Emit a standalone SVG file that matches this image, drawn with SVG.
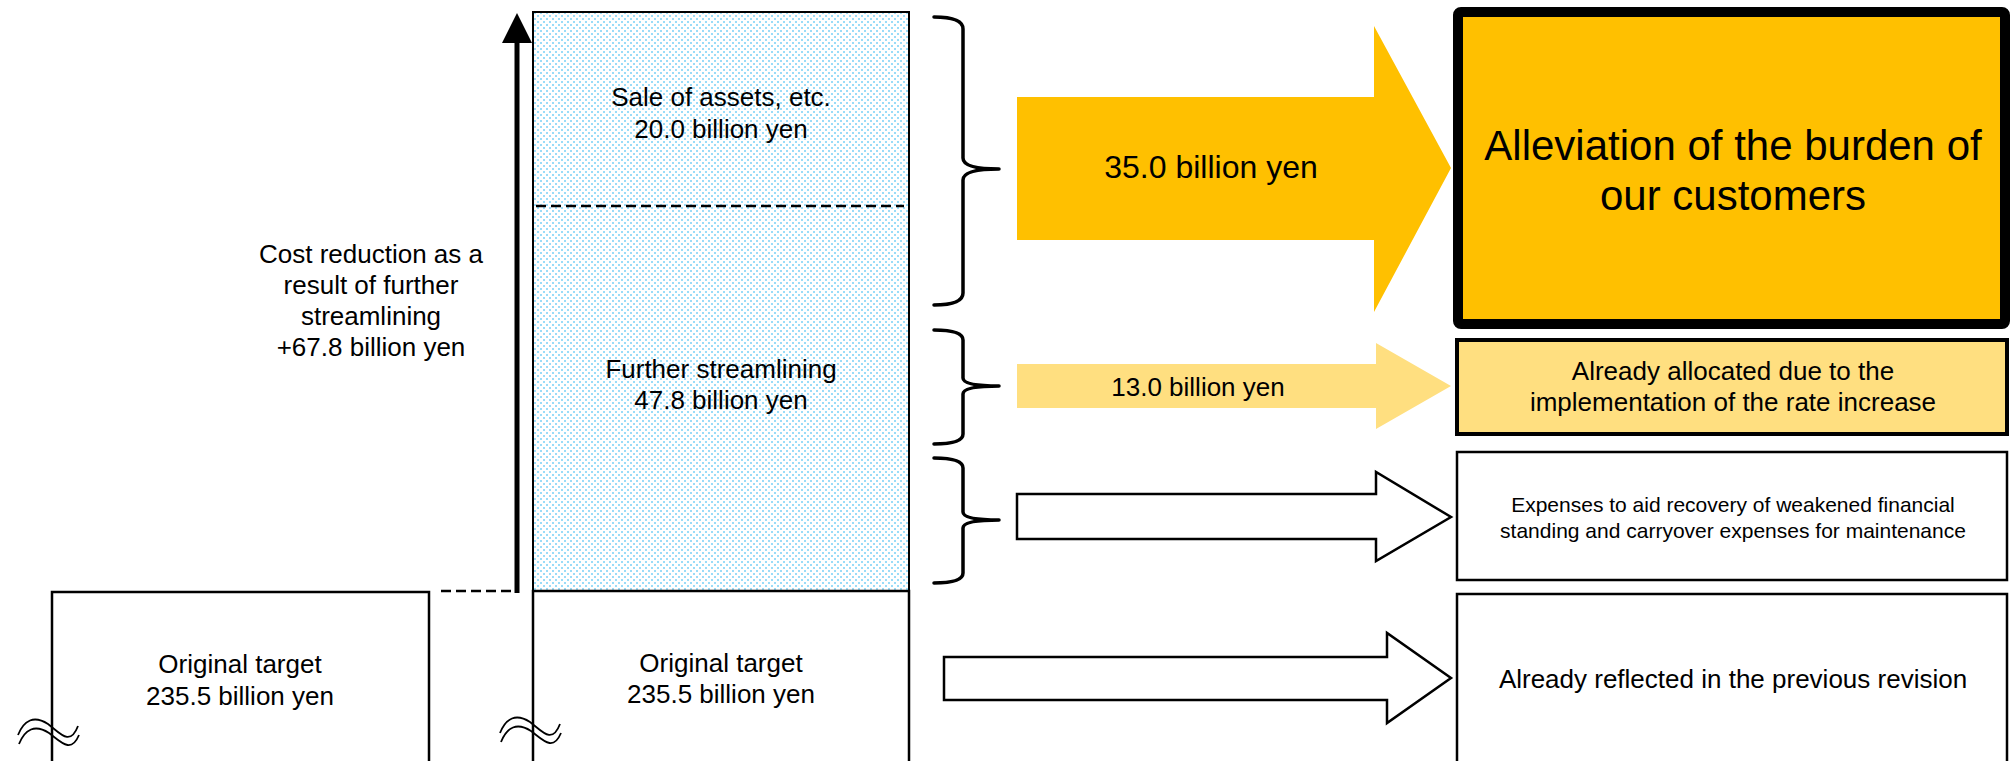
<svg xmlns="http://www.w3.org/2000/svg" width="2010" height="761" viewBox="0 0 2010 761">
<defs>
<style>
text{font-family:"Liberation Sans",Arial,Helvetica,sans-serif;fill:#000;text-anchor:middle}
.t26{font-size:26px}
.t21{font-size:21px}
.t32{font-size:32px}
.t42{font-size:42px}
.box{fill:#fff;stroke:#000;stroke-width:2.5}
.brace{fill:none;stroke:#000;stroke-width:3.5;stroke-linejoin:round;stroke-linecap:round}
.dash{stroke:#000;stroke-width:2.5;stroke-dasharray:10,5;fill:none}
.wave{fill:none;stroke:#000;stroke-width:1.8}
.warrow{fill:#fff;stroke:#000;stroke-width:2.5}
</style>
<pattern id="dots" width="6" height="6" patternUnits="userSpaceOnUse">
<rect width="6" height="6" fill="#ffffff"/>
<rect x="0" y="0" width="2" height="2" fill="#9adcf8"/>
<rect x="3" y="3" width="2" height="2" fill="#9adcf8"/>
</pattern>
<g id="wv">
<path class="wave" d="M500,733 C506,718 516,713 530,722 C542,731 552,745 560,724"/>
<path class="wave" d="M501,742 C507,727 517,722 531,731 C543,740 553,752 561,733"/>
</g>
</defs>
<rect width="2010" height="761" fill="#fff"/>

<g id="left-original">
<rect class="box" x="52" y="592" width="377" height="200"/>
<text class="t26" x="240" y="673">Original target</text>
<text class="t26" x="240" y="705">235.5 billion yen</text>
<use href="#wv" transform="translate(-482,2)"/>
</g>

<g id="cost-label">
<text class="t26" x="371" y="263">Cost reduction as a</text>
<text class="t26" x="371" y="294">result of further</text>
<text class="t26" x="371" y="325">streamlining</text>
<text class="t26" x="371" y="356">+67.8 billion yen</text>
</g>

<g id="column-blue">
<rect x="533" y="12" width="376" height="579" fill="url(#dots)" stroke="#000" stroke-width="2"/>
<line class="dash" x1="536" y1="206" x2="904" y2="206"/>
<text class="t26" x="721" y="106">Sale of assets, etc.</text>
<text class="t26" x="721" y="138">20.0 billion yen</text>
<text class="t26" x="721" y="378">Further streamlining</text>
<text class="t26" x="721" y="409">47.8 billion yen</text>
</g>

<g id="column-original">
<rect class="box" x="533" y="591" width="376" height="200"/>
<text class="t26" x="721" y="672">Original target</text>
<text class="t26" x="721" y="703">235.5 billion yen</text>
<use href="#wv"/>
</g>

<g id="box-alleviation">
<rect x="1458" y="12" width="547" height="312" rx="3" fill="#FFC000" stroke="#000" stroke-width="10"/>
<text class="t42" x="1733" y="160">Alleviation of the burden of</text>
<text class="t42" x="1733" y="210">our customers</text>
</g>

<g id="box-allocated">
<rect x="1457" y="340" width="550" height="94" fill="#FFDF80" stroke="#000" stroke-width="4"/>
<text class="t26" x="1733" y="380">Already allocated due to the</text>
<text class="t26" x="1733" y="411">implementation of the rate increase</text>
</g>

<g id="box-expenses">
<rect class="box" x="1457" y="452" width="550" height="128" stroke-width="3"/>
<text class="t21" x="1733" y="512">Expenses to aid recovery of weakened financial</text>
<text class="t21" x="1733" y="538">standing and carryover expenses for maintenance</text>
</g>

<g id="box-reflected">
<rect class="box" x="1457" y="594" width="550" height="190" stroke-width="3"/>
<text class="t26" x="1733" y="688">Already reflected in the previous revision</text>
</g>

<g id="connectors">
<line class="dash" x1="441" y1="591" x2="514" y2="591"/>
<line x1="517" y1="593" x2="517" y2="40" stroke="#000" stroke-width="5"/>
<polygon points="502,43 532,43 517,13" fill="#000"/>

<path class="brace" d="M934,17 Q963,17 963,29 L963,158 Q963,169 999,169 Q963,169 963,180 L963,293 Q963,305 934,305"/>
<path class="brace" d="M934,330 Q963,330 963,340 L963,378 Q963,386 999,386 Q963,386 963,394 L963,434 Q963,444 934,444"/>
<path class="brace" d="M934,458 Q963,458 963,468 L963,512 Q963,520 999,520 Q963,520 963,528 L963,573 Q963,583 934,583"/>

<polygon points="1017,97 1374,97 1374,26 1451,168 1374,312 1374,240 1017,240" fill="#FFC000"/>
<text class="t32" x="1211" y="178">35.0 billion yen</text>
<polygon points="1017,364 1376,364 1376,343 1451,386 1376,429 1376,408 1017,408" fill="#FFDF80"/>
<text class="t26" x="1198" y="396">13.0 billion yen</text>
<polygon class="warrow" points="1017,494 1376,494 1376,472 1451,517 1376,561 1376,539 1017,539"/>
<polygon class="warrow" points="944,657 1387,657 1387,633 1451,678 1387,723 1387,700 944,700"/>
</g>
</svg>
